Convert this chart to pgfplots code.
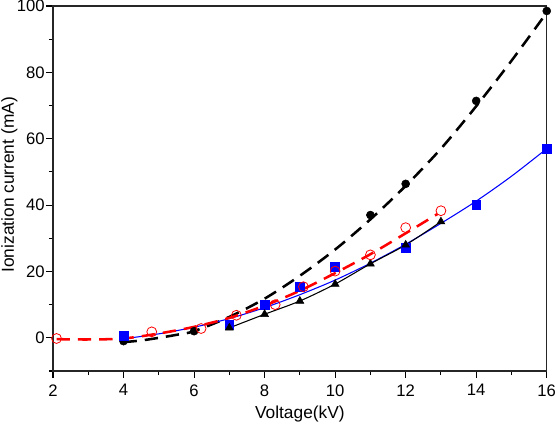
\documentclass[border=0pt]{standalone}
\usepackage{fontspec}
\setmainfont{Liberation Sans}
\usepackage{pgfplots}
\pgfplotsset{compat=1.18}
\begin{document}
\begin{tikzpicture}
\begin{axis}[
  scale only axis, width=370.3pt, height=273.75pt,
  xmin=2, xmax=16, ymin=-10, ymax=100,
  xtick={2,4,...,16}, ytick={0,20,...,100},
  minor xtick={3,5,...,15}, minor ytick={-10,10,...,90},
  tick align=outside, tick pos=left,
  major tick length=5pt, minor tick length=3pt,
  every tick/.style={black, line width=0.8pt},
  axis line style={line width=0.8pt, black!85},
  xlabel={Voltage(kV)}, ylabel={Ionization current (mA)},
  tick label style={font=\fontsize{12.5}{14}\selectfont},
  yticklabel style={inner xsep=1pt},
  xticklabel style={yshift=-1.5pt},
  label style={font=\fontsize{13}{15}\selectfont},
  /pgf/number format/assume math mode=true,
  xlabel style={at={(axis description cs:0.5,-0.142)}, anchor=south, inner sep=0pt},
  ylabel style={at={(axis description cs:-0.105,0.51)}, anchor=north, rotate=0, inner sep=0pt},
]
% black dashed fit
\addplot[black, line width=1.9pt, dash pattern=on 10pt off 6pt, smooth] coordinates {
 (4,-1.3) (4.5,-0.8) (5,0.0) (5.5,0.9) (6,2.0) (7,6.3) (8,11.8) (9,18.7) (10,26.6)
 (11,35.7) (12,45.8) (13,57.0) (14,69.8) (15,83.5) (16,98)};
% blue fit
\addplot[blue, line width=0.8pt, smooth] coordinates {
 (4,-0.3) (5,1.2) (6,3.2) (7,5.8) (8,9.1) (9,13.0) (10,17.4) (11,22.5) (12,28.2)
 (13,34.5) (14,41.2) (15,48.7) (16,57.0)};
% red dashed fit
\addplot[red, line width=1.9pt, dash pattern=on 10pt off 6pt, smooth] coordinates {
 (2.1,-0.4) (3,-0.5) (4,-0.2) (5,1.3) (6,3.3) (7,6.0) (8,9.7) (9,14.2) (10,19.5)
 (11,25.2) (12,31.5) (12.9,37.3)};
% black solid (triangles)
\addplot[black, line width=0.8pt, smooth] coordinates {
 (7,3.0) (8,7.1) (9,11.1) (10,16.2) (11,22.3) (12,28.0) (13,35.0)};
% markers
\addplot[only marks, mark=*, mark size=3pt, black] coordinates {
 (4,-1) (6,2) (11,37) (12,46.4) (14,71.4) (16,98.5)};
\addplot[only marks, mark=square*, mark size=3.3pt, blue] coordinates {
 (4,0.5) (7,4.0) (8,9.9) (9,15.4) (10,21.3) (12,27.2) (14,40.1) (16,57)};
\addplot[only marks, mark=triangle*, mark size=3.4pt, black] coordinates {
 (7,3.0) (8,7.1) (9,11.1) (10,16.2) (11,22.3) (12,28.0) (13,35.0)};
\addplot[only marks, mark=o, mark size=3.7pt, red, mark options={line width=0.6pt}] coordinates {
 (2.1,-0.2) (4.8,1.8) (6.2,2.8) (7.2,6.8) (8.3,10.0) (9.1,15.4) (10,20.1) (11,25.0) (12,33.2) (13,38.3)};
\end{axis}
\pgfresetboundingbox
\path[use as bounding box] ([shift={(-39.75pt,-39.75pt)}]current axis.south west) rectangle ([shift={(6.2pt,4.5pt)}]current axis.north east);
\end{tikzpicture}
\end{document}
